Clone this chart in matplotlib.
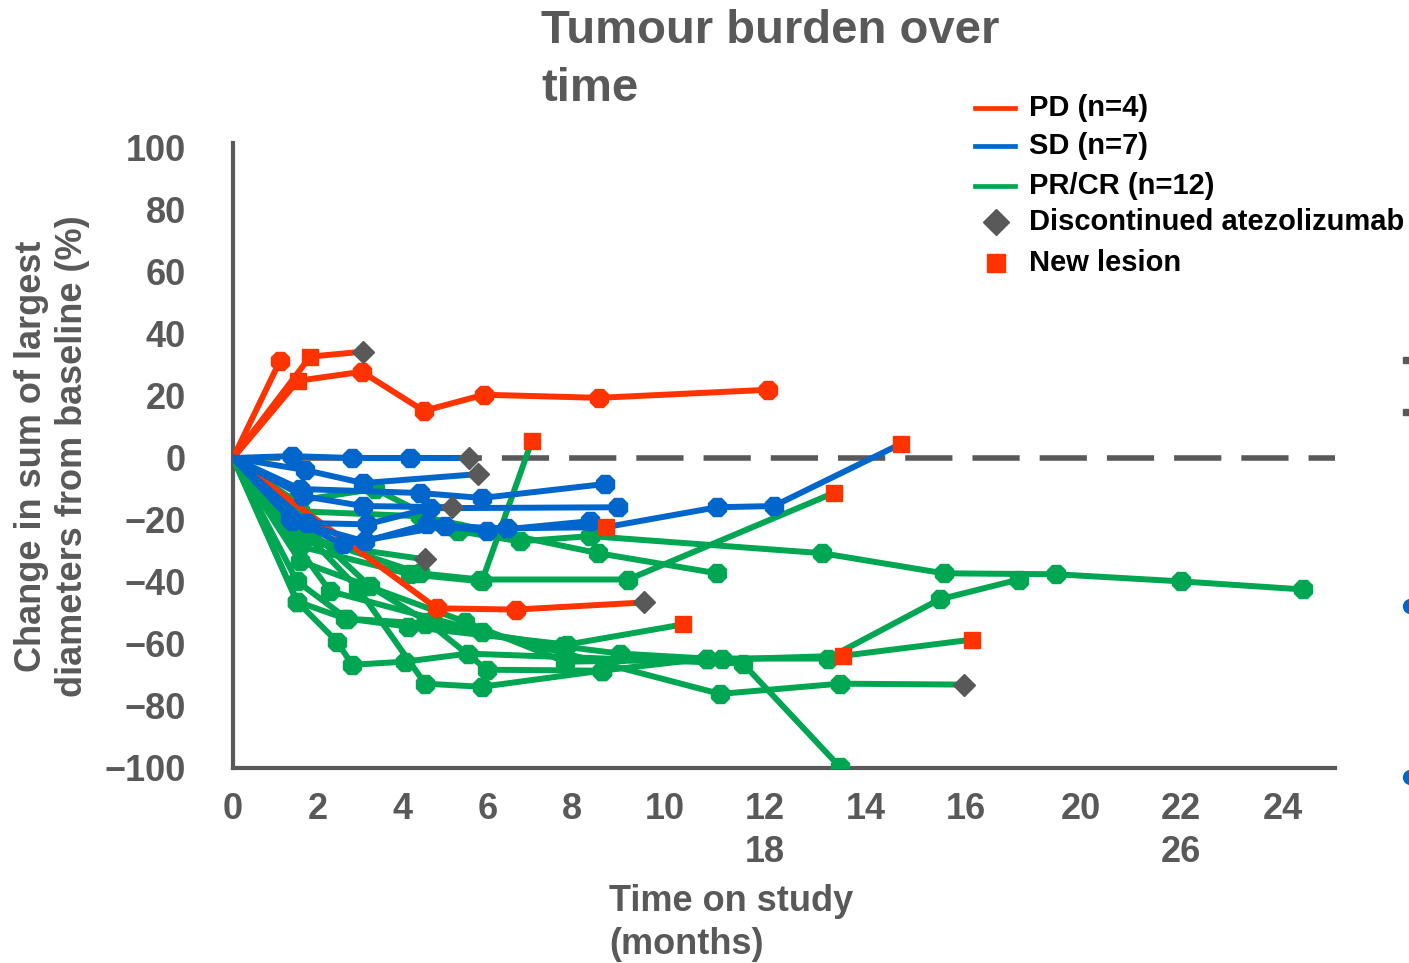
import matplotlib
matplotlib.use("Agg")
import matplotlib.pyplot as plt
from matplotlib.lines import Line2D

plt.rcParams['font.family'] = ['Liberation Sans', 'DejaVu Sans']
plt.rcParams['font.weight'] = 'bold'

RED = '#FF3300'
BLUE = '#0066CC'
GREEN = '#00A651'
GRAY = '#595959'

# months on study / % change per patient; marks: o = assessment, s = new lesion, D = discontinued
pd_t = [[0, 1.11], [0, 1.82, 3.07], [0, 1.53, 3.04, 4.50, 5.92, 8.63, 12.62],
        [0, 4.81, 6.67, 9.69]]
pd_v = [[0, 31.4], [0, 32.7, 34.3], [0, 24.9, 27.8, 15.2, 20.4, 19.4, 22.0],
        [0, -48.5, -48.9, -46.6]]
pd_marks = ["o", "sD", "sooooo", "ooD"]

sd_t = [[0, 1.39, 2.81, 4.17, 5.57],
        [0, 1.70, 3.07, 5.78],
        [0, 1.58, 4.41, 5.87, 8.77],
        [0, 1.34, 2.59, 5.00, 6.46, 8.80, 11.42, 12.76, 15.75],
        [0, 1.75, 3.16, 4.65, 9.08],
        [0, 1.65, 3.07, 5.17],
        [0, 1.39, 3.11, 4.58, 5.99, 8.42]]
sd_v = [[0, 0.6, 0, 0, 0],
        [0, -3.9, -8.1, -5.2],
        [0, -10.0, -11.3, -12.9, -8.4],
        [0, -19.4, -27.8, -22.0, -22.7, -22.3, -15.9, -15.5, 4.5],
        [0, -21.0, -21.4, -16.2, -15.9],
        [0, -12.3, -15.5, -15.9],
        [0, -20.4, -26.9, -21.4, -23.6, -20.4]]
sd_marks = ["oooD", "ooD", "oooo", "oooosoos", "oooo", "ooD", "ooooo"]

pr_t = [[0, 1.46, 3.35, 5.31, 6.77, 8.42, 13.89, 16.77, 19.41, 22.36, 25.24],
        [0, 1.58, 4.41, 8.61, 11.42],
        [0, 1.39, 4.41, 5.83, 9.32, 14.17],
        [0, 1.58, 4.17, 5.87, 7.05],
        [0, 1.58, 4.53],
        [0, 1.51, 2.69, 4.13, 7.88, 10.61],
        [0, 1.51, 2.64, 4.53, 7.78, 9.13, 11.18, 14.03, 16.67, 18.54],
        [0, 1.58, 5.47, 7.83, 11.53, 14.39, 17.43],
        [0, 2.29, 5.87, 11.49, 14.32, 17.24],
        [0, 1.51, 2.45, 2.81, 4.06, 5.54, 12.03, 14.32],
        [0, 2.95, 4.53, 5.87, 8.70, 11.18],
        [0, 3.23, 4.58, 5.99, 8.70]]
pr_v = [[0, -13.9, -10.0, -23.6, -26.9, -25.2, -30.7, -37.2, -37.5, -39.8, -42.4],
        [0, -17.2, -18.8, -30.7, -37.2],
        [0, -23.6, -37.2, -39.2, -39.2, -11.3],
        [0, -28.5, -37.5, -39.8, 5.5],
        [0, -26.9, -32.7],
        [0, -39.8, -51.8, -54.4, -60.2, -53.7],
        [0, -46.3, -51.8, -53.4, -60.8, -63.1, -64.7, -64.7, -45.6, -39.2],
        [0, -33.3, -52.8, -65.7, -65.0, -63.8, -58.6],
        [0, -43.0, -56.0, -76.1, -72.8, -73.1],
        [0, -46.3, -59.2, -66.7, -65.7, -63.1, -66.3, -99.7],
        [0, -42.1, -72.8, -73.8, -68.6, -64.7],
        [0, -41.4, -52.8, -68.3, -68.6]]
pr_marks = ["oooooooooo", "oooo", "oooos", "ooos", "oD", "oooos", "ooooooooo",
            "ooooss", "ooooD", "ooooooo", "ooooo", "oooo"]

y_ticks = [-100, -80, -60, -40, -20, 0, 20, 40, 60, 80, 100]
x_tick_pos = [0, 2, 4, 6, 8, 10.19, 12.55, 14.93, 17.29, 20.0, 22.36, 24.76]
x_tick_labels = ['0', '2', '4', '6', '8', '10', '12\n18', '14', '16', '20', '22\n26', '24']

legend_labels = ['PD (n=4)', 'SD (n=7)', 'PR/CR (n=12)', 'Discontinued atezolizumab', 'New lesion']

fig = plt.figure(figsize=(14.09, 9.63), dpi=100)
ax = fig.add_axes([0.1654, 0.2025, 0.7821, 0.649])
ax.set_xlim(0, 26.0)
ax.set_ylim(-100, 101.6)

ax.axhline(0, color=GRAY, lw=4, linestyle=(0, (8.5, 3.6)), zorder=1)


def draw_group(times, values, marks, color, z):
    for t, v, m in zip(times, values, marks):
        ax.plot(t, v, color=color, lw=4.3, zorder=z, solid_joinstyle='round')
        for ti, vi, mi in zip(t[1:], v[1:], m):
            if mi == 'o':
                ax.plot(ti, vi, marker='8', ms=13.5, color=color, mec=color, zorder=z)
            elif mi == 's':
                ax.plot(ti, vi, marker='s', ms=12, color=RED, mec=RED, zorder=10)
            elif mi == 'D':
                ax.plot(ti, vi, marker='D', ms=11.5, color=GRAY, mec=GRAY, zorder=10)


draw_group(pr_t, pr_v, pr_marks, GREEN, 3)
draw_group(pd_t, pd_v, pd_marks, RED, 4)
draw_group(sd_t, sd_v, sd_marks, BLUE, 5)

# bits spilling past the right edge of the slide
ax.plot([27.67, 27.67], [31.7, 14.9], ls='none', marker='s', ms=4, color=GRAY, clip_on=False)
ax.plot([27.78, 27.78], [-47.9, -102.9], ls='none', marker='o', ms=10, color=BLUE, clip_on=False)

for side in ['top', 'right']:
    ax.spines[side].set_visible(False)
for side in ['left', 'bottom']:
    ax.spines[side].set_color(GRAY)
    ax.spines[side].set_linewidth(3)
ax.set_yticks(y_ticks)
ax.set_xticks(x_tick_pos)
ax.set_xticklabels(x_tick_labels, linespacing=1.32)
ax.tick_params(axis='y', length=0, pad=34, labelsize=26, labelcolor=GRAY)
ax.tick_params(axis='x', length=0, pad=17, labelsize=26, labelcolor=GRAY)

fig.text(541 / 1409, 1 - 9 / 963, 'Tumour burden over\ntime', ha='left', va='top',
         fontsize=34, color=GRAY, linespacing=1.4)
fig.text(52 / 1409, 1 - 456 / 963, 'Change in sum of largest\ndiameters from baseline (%)',
         rotation=90, ha='center', va='center', fontsize=26, color=GRAY, linespacing=1.25)
fig.text(609 / 1409, 1 - 923 / 963, 'Time on study\n(months)', ha='left', va='center',
         fontsize=26, color=GRAY, linespacing=1.32)

# legend
ys = [108, 146, 186, 222, 263]
for i, col in enumerate([RED, BLUE, GREEN]):
    fig.add_artist(Line2D([975 / 1409, 1015 / 1409], [1 - ys[i] / 963] * 2, color=col, lw=3.4))
fig.add_artist(Line2D([996 / 1409], [1 - ys[3] / 963], marker='D', ms=13, color=GRAY, ls='none'))
fig.add_artist(Line2D([996 / 1409], [1 - ys[4] / 963], marker='s', ms=13, color=RED, ls='none'))
for y, lab in zip(ys, legend_labels):
    fig.text(1029 / 1409, 1 - y / 963, lab, ha='left', va='center', fontsize=21, color='black')

fig.savefig('out.png', dpi=100)
